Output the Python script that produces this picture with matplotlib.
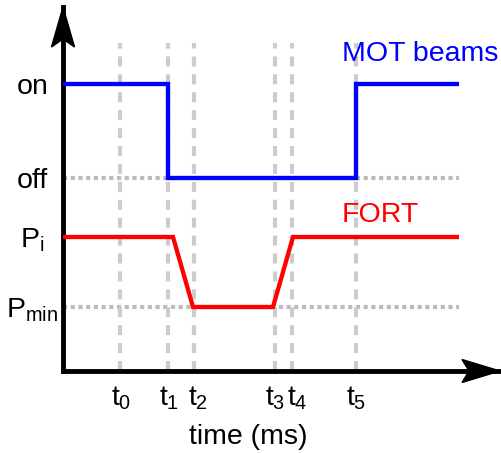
import numpy as np
import matplotlib
matplotlib.use("Agg")
import matplotlib.pyplot as plt
from matplotlib.patches import Polygon
from matplotlib.transforms import ScaledTranslation

plt.rcParams["font.family"] = "Liberation Sans"
plt.rcParams["mathtext.fontset"] = "custom"
plt.rcParams["mathtext.rm"] = "Liberation Sans"
plt.rcParams["mathtext.it"] = "Liberation Sans"
plt.rcParams["mathtext.bf"] = "Liberation Sans:bold"

# time marks (arbitrary units)
t_marks = [5.7, 10.5, 13.1, 21.2, 22.9, 29.3]
t_labels = ['$t_0$', '$t_1$', '$t_2$', '$t_3$', '$t_4$', '$t_5$']
t_end = 39.6

# levels
lvl_on, lvl_off = 28.7, 19.3
lvl_pi, lvl_pmin = 13.4, 6.4
y_levels = [lvl_on, lvl_off, lvl_pi, lvl_pmin]
y_labels = ['on', 'off', r'$\mathregular{P_i}$', r'$\mathregular{P_{min}}$']

# MOT beams sequence
mot_t = [0, t_marks[1], t_marks[1], t_marks[5], t_marks[5], t_end]
mot_y = [lvl_on, lvl_on, lvl_off, lvl_off, lvl_on, lvl_on]

# FORT power sequence
fort_t = [0, 11.0, 13.0, 21.0, 23.0, t_end]
fort_y = [lvl_pi, lvl_pi, lvl_pmin, lvl_pmin, lvl_pi, lvl_pi]

fs = 20.5

fig = plt.figure(figsize=(5.01, 4.53), dpi=100)
ax = fig.add_axes([63/501, 82/453, 437/501, 364/453])
ax.set_xlim(0, 43.7)
ax.set_ylim(0, 36.4)

# guide lines
ax.hlines([lvl_off, lvl_pmin], 0, t_end, colors='#bbbbbb', lw=3,
          linestyles=[(0, (1, 0.85))], zorder=1)
ax.vlines(t_marks, 0, 32.8, colors='#cccccc', lw=3,
          linestyles=[(0, (2.4, 1.9))], zorder=1.5)

ax.plot(mot_t, mot_y, color='#0000ff', lw=3.1, solid_joinstyle='miter',
        solid_capstyle='butt', zorder=3)
ax.plot(fort_t, fort_y, color='#ff0000', lw=3.1, solid_joinstyle='miter',
        solid_capstyle='butt', zorder=3)

ax.text(27.9, 31.0, 'MOT beams', color='#0000ff', fontsize=fs, va='baseline')
ax.text(27.9, 14.9, 'FORT', color='#ff0000', fontsize=fs, va='baseline')
ax.text(18.5, -6.6, 'time (ms)', fontsize=fs, ha='center', va='center')

# time labels under the axis, small nudges so t3/t4 don't collide
nudge = [0.1, 0.1, 0.35, 0.05, 0.5, 0.0]
for t, lab, dx in zip(t_marks, t_labels, nudge):
    ax.text(t + dx, -3.5, lab, fontsize=fs, ha='center', va='baseline')
ax.set_xticks([])

ax.set_yticks(y_levels, y_labels, fontsize=fs)
ax.tick_params(axis='y', length=0, pad=22)
for lab in ax.get_yticklabels():
    lab.set_ha('center')

for s in ['top', 'right']:
    ax.spines[s].set_visible(False)
for s in ['left', 'bottom']:
    ax.spines[s].set_linewidth(3.5)
    ax.spines[s].set_color('black')

# arrow heads
head_y = [(0, 0), (-0.115, -0.40), (0, -0.32), (0.115, -0.40)]
head_x = [(0, 0), (-0.38, 0.115), (-0.31, 0), (-0.38, -0.115)]
ty = fig.dpi_scale_trans + ScaledTranslation(0, 1, ax.transAxes)
tx = fig.dpi_scale_trans + ScaledTranslation(1, 0, ax.transAxes)
ax.add_patch(Polygon(head_y, closed=True, color='black', transform=ty, clip_on=False, zorder=5))
ax.add_patch(Polygon(head_x, closed=True, color='black', transform=tx, clip_on=False, zorder=5))

fig.savefig('out.png', dpi=100)
